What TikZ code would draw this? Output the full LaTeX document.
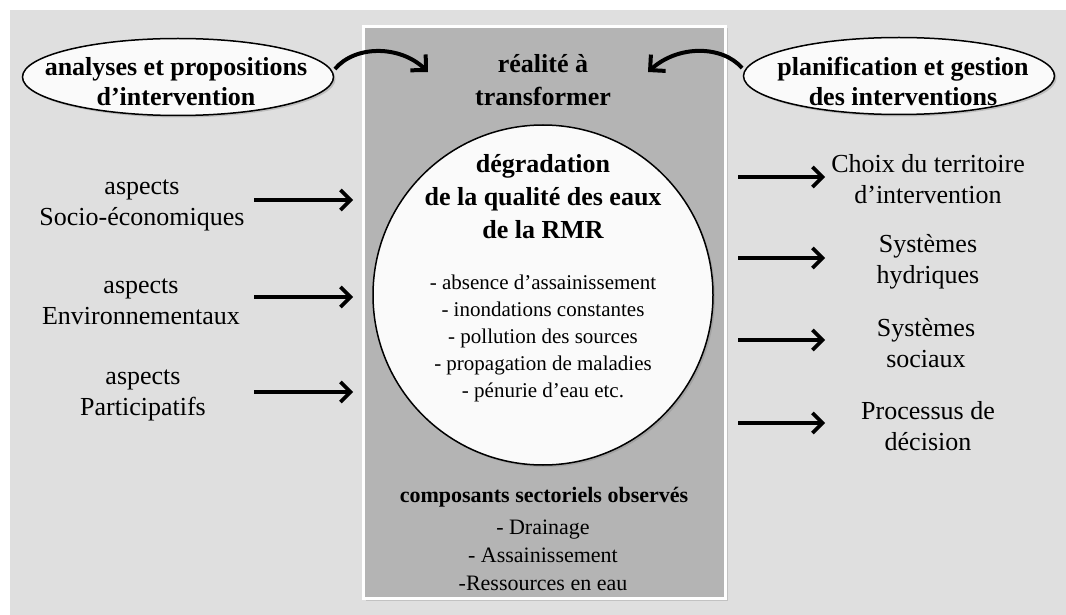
\documentclass[tikz,border=0pt]{standalone}
\usepackage{fontspec}
\setmainfont{Liberation Serif}
\usetikzlibrary{arrows.meta,shapes.geometric,shadows,positioning}
\definecolor{fond}{HTML}{DFDFDF}
\definecolor{cadre}{HTML}{B4B4B4}
\definecolor{blanccasse}{HTML}{FAFAFA}

\begin{document}
\begin{tikzpicture}[x=1pt,y=-1pt,
  txt/.style={align=center,font=\fontsize{26}{31}\selectfont},
  titre/.style={align=center,font=\fontsize{26}{33}\selectfont\bfseries},
  liste/.style={align=center,font=\fontsize{21}{27}\selectfont},
  sect/.style={align=center,font=\fontsize{22}{28}\selectfont},
  bulle/.style={ellipse,draw,fill=blanccasse,line width=1.5pt,minimum width=311pt,
    minimum height=77pt,drop shadow={opacity=0.35,shadow xshift=2pt,shadow yshift=-2pt}},
  flow/.style={line width=3.6pt,-{Straight Barb[length=10pt,width=20pt]}},
  courbe/.style={line width=4pt,-{Straight Barb[length=11pt,width=22pt]}}]
  \useasboundingbox (0,0) rectangle (1066,615);
  \fill[white] (0,0) rectangle (1066,615);
  \fill[fond] (10,10) rectangle (1066,615);

  % cadre central
  \draw[white,line width=3pt,fill=cadre,drop shadow={opacity=0.3,shadow xshift=2pt,shadow yshift=-2pt}]
    (363.5,26.5) rectangle (725.5,598.5);
  \node[titre] (realite) at (543,80) {réalité à\\transformer};

  \node[circle,draw,fill=blanccasse,line width=1.5pt,minimum size=340pt,inner sep=0pt,
    drop shadow={opacity=0.35,shadow xshift=2pt,shadow yshift=-2pt}] (degr) at (543,295) {};
  \node[titre] (degrtitre) at (543,197) {dégradation\\de la qualité des eaux\\de la RMR};
  \node[liste] (degrliste) at (543,338) {- absence d’assainissement\\- inondations constantes\\
    - pollution des sources\\- propagation de maladies\\- pénurie d’eau etc.};

  \node[font=\fontsize{22}{28}\selectfont\bfseries] (compo) at (544,497) {composants sectoriels observés};
  \node[sect] (secteurs) at (543,555) {- Drainage\\- Assainissement\\-Ressources en eau};

  % bulles du haut
  \node[bulle] (analyse) at (178,77) {};
  \node[align=center,font=\fontsize{26}{30}\selectfont\bfseries] (analysetxt) at (176,82)
    {analyses et propositions\\d’intervention};
  \node[bulle] (planif) at (899,76) {};
  \node[align=center,font=\fontsize{26}{30}\selectfont\bfseries] (planiftxt) at (903,81)
    {planification et gestion\\des interventions};

  \coordinate (cibleG) at (428,72);
  \coordinate (cibleD) at (648,72);
  \draw[courbe] ([xshift=4pt]analyse.3) .. controls (355,45) and (400,45) .. (cibleG);
  \draw[courbe] ([xshift=-4pt]planif.177) .. controls (722,45) and (678,45) .. (cibleD);

  % aspects a gauche
  \node[txt] (socio) at (142,205) {aspects\\Socio-économiques};
  \node[txt] (envir) at (141,302) {aspects\\Environnementaux};
  \node[txt] (parti) at (143,395) {aspects\\Participatifs};
  \foreach \n/\y in {a/200,b/297,c/392}{
    \coordinate (g\n1) at (254,\y);
    \coordinate (g\n2) at (353,\y);
    \draw[flow] (g\n1) -- (g\n2);
  }

  % interventions a droite
  \node[txt] (choix) at (928,179) {Choix du territoire\\d’intervention};
  \node[txt] (hydr) at (928,262) {Systèmes\\hydriques};
  \node[txt] (soci) at (926,343) {Systèmes\\sociaux};
  \node[txt] (proc) at (928,426) {Processus de\\décision};
  \foreach \n/\y in {a/177,b/258,c/340,d/423}{
    \coordinate (d\n1) at (738,\y);
    \coordinate (d\n2) at (825,\y);
    \draw[flow] (d\n1) -- (d\n2);
  }
\end{tikzpicture}
\end{document}
